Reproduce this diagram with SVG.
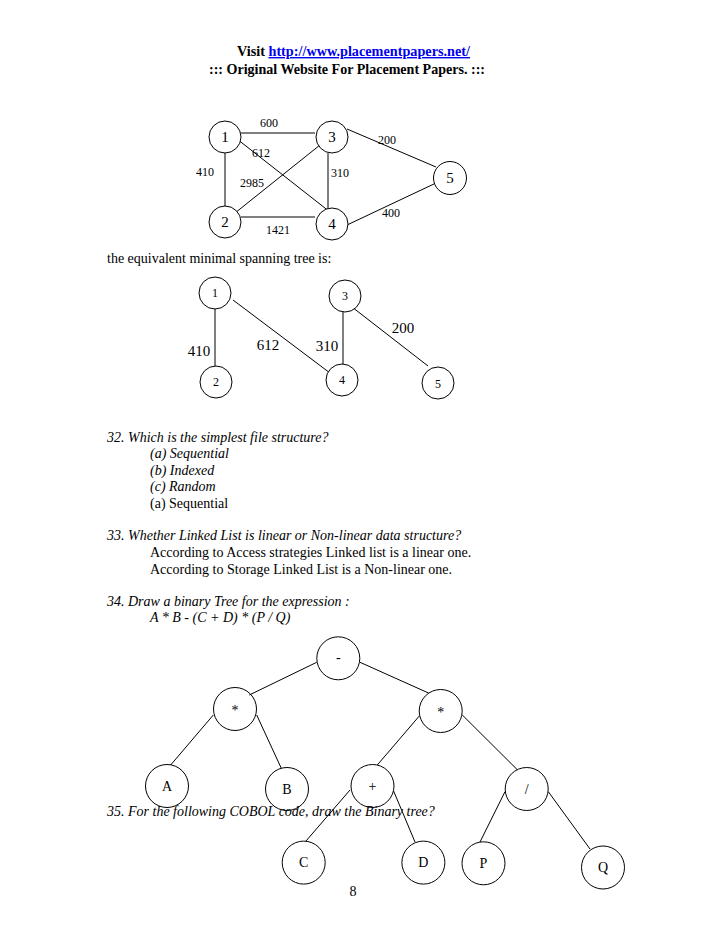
<svg xmlns="http://www.w3.org/2000/svg" width="728" height="942" viewBox="0 0 728 942">
<style>
text{font-family:"Liberation Serif","Times New Roman",serif;fill:#000}
.hd{font-size:14px;font-weight:bold}
.lnk{fill:#0000ee;text-decoration:underline}
.t{font-size:14px}
.i{font-size:14px;font-style:italic}
.w{font-size:12px;text-anchor:middle}
.w2{font-size:15px;text-anchor:middle}
.nl{font-size:15px;text-anchor:middle}
.tl{font-size:12px;text-anchor:middle}
.tn{font-size:14px;text-anchor:middle}
circle{fill:#fff;stroke:#000;stroke-width:1}
#tree circle{fill:none}
line{stroke:#000;stroke-width:1}
</style>
<rect width="728" height="942" fill="#fff"/>
<text class="hd" x="237" y="56" textLength="233" lengthAdjust="spacingAndGlyphs">Visit <tspan class="lnk">http://www.placementpapers.net/</tspan></text>
<text class="hd" x="209" y="74" textLength="276" lengthAdjust="spacingAndGlyphs">::: Original Website For Placement Papers. :::</text>

<!-- Graph 1 -->
<g id="g1-connectors">
<line x1="241" y1="133" x2="315" y2="133"/>
<line x1="225" y1="153" x2="225" y2="206"/>
<line x1="328" y1="153" x2="328" y2="209"/>
<line x1="241" y1="217" x2="315" y2="217"/>
<line x1="237" y1="139" x2="330" y2="212"/>
<line x1="235" y1="213" x2="320" y2="145"/>
<line x1="347" y1="129" x2="436" y2="167"/>
<line x1="347" y1="225" x2="436" y2="183"/>
</g>
<g id="g1-labels">
<text class="w" x="269" y="127">600</text>
<text class="w" x="261" y="157">612</text>
<text class="w" x="205" y="176">410</text>
<text class="w" x="252" y="187">2985</text>
<text class="w" x="340" y="177">310</text>
<text class="w" x="387" y="144">200</text>
<text class="w" x="391" y="217">400</text>
<text class="w" x="278" y="234">1421</text>
</g>
<g id="g1-n1"><circle cx="225" cy="137" r="16"/><text class="nl" x="225" y="142">1</text></g>
<g id="g1-n3"><circle cx="332" cy="137" r="16"/><text class="nl" x="332" y="142">3</text></g>
<g id="g1-n2"><circle cx="225" cy="222" r="16"/><text class="nl" x="225" y="227">2</text></g>
<g id="g1-n4"><circle cx="332" cy="224" r="16"/><text class="nl" x="332" y="229">4</text></g>
<g id="g1-n5"><circle cx="450" cy="178" r="16.5"/><text class="nl" x="450" y="183">5</text></g>

<text class="t" x="107" y="263">the equivalent minimal spanning tree is:</text>

<!-- Graph 2 -->
<g id="g2-connectors">
<line x1="215" y1="308" x2="215" y2="366"/>
<line x1="233" y1="300" x2="330" y2="373"/>
<line x1="343" y1="307" x2="343" y2="364"/>
<line x1="352" y1="307" x2="428" y2="366"/>
</g>
<g id="g2-labels">
<text class="w2" x="403" y="333">200</text>
<text class="w2" x="199" y="356">410</text>
<text class="w2" x="268" y="350">612</text>
<text class="w2" x="327" y="351">310</text>
</g>
<g id="g2-n1"><circle cx="215" cy="293" r="16"/><text class="tl" x="215" y="297">1</text></g>
<g id="g2-n3"><circle cx="345" cy="296" r="16"/><text class="tl" x="345" y="300">3</text></g>
<g id="g2-n2"><circle cx="216" cy="382" r="16"/><text class="tl" x="216" y="386">2</text></g>
<g id="g2-n4"><circle cx="342" cy="380" r="16"/><text class="tl" x="342" y="384">4</text></g>
<g id="g2-n5"><circle cx="438" cy="383" r="16"/><text class="tl" x="438" y="388">5</text></g>

<!-- Text block -->
<text class="i" x="107" y="442">32. Which is the simplest file structure?</text>
<text class="i" x="150" y="458">(a) Sequential</text>
<text class="i" x="150" y="475">(b) Indexed</text>
<text class="i" x="150" y="491">(c) Random</text>
<text class="t" x="150" y="508">(a) Sequential</text>
<text class="i" x="107" y="540">33. Whether Linked List is linear or Non-linear data structure?</text>
<text class="t" x="150" y="557">According to Access strategies Linked list is a linear one.</text>
<text class="t" x="150" y="574">According to Storage Linked List is a Non-linear one.</text>
<text class="i" x="107" y="606">34. Draw a binary Tree for the expression :</text>
<text class="i" x="150" y="622">A * B - (C + D) * (P / Q)</text>
<text class="i" x="107" y="816">35. For the following COBOL code, draw the Binary tree?</text>
<text class="t" x="353" y="896" text-anchor="middle">8</text>

<!-- Tree -->
<g id="tree">
<g id="tree-connectors">
<line x1="316.7" y1="662.3" x2="249.3" y2="695"/>
<line x1="360" y1="662.3" x2="428.7" y2="693.1"/>
<line x1="213.3" y1="715" x2="170.7" y2="765"/>
<line x1="256.7" y1="715" x2="281.3" y2="768.3"/>
<line x1="419.3" y1="716" x2="377.3" y2="765"/>
<line x1="462.3" y1="715" x2="517.3" y2="769.7"/>
<line x1="350" y1="790" x2="306" y2="841"/>
<line x1="393.5" y1="790.8" x2="415" y2="842"/>
<line x1="505" y1="791.7" x2="480" y2="842"/>
<line x1="548.3" y1="791.7" x2="590" y2="849"/>
</g>
<g id="t-minus"><circle cx="338.3" cy="658.3" r="21.5"/><text class="tn" x="338.3" y="662" fill="#444">-</text></g>
<g id="t-mul1"><circle cx="235" cy="709" r="21.5"/><text class="tn" x="235" y="715" fill="#333">*</text></g>
<g id="t-mul2"><circle cx="440.7" cy="711" r="21.5"/><text class="tn" x="440.7" y="717" fill="#333">*</text></g>
<g id="t-A"><circle cx="167" cy="786" r="21.5"/><text class="tn" x="167" y="791">A</text></g>
<g id="t-B"><circle cx="287" cy="789" r="21.5"/><text class="tn" x="287" y="794">B</text></g>
<g id="t-plus"><circle cx="372.5" cy="786" r="21.5"/><text class="tn" x="372.5" y="791" fill="#333">+</text></g>
<g id="t-div"><circle cx="526.7" cy="789" r="21.5"/><text class="tn" x="526.7" y="794" fill="#444">/</text></g>
<g id="t-C"><circle cx="303.7" cy="862.6" r="21.5"/><text class="tn" x="303.7" y="867">C</text></g>
<g id="t-D"><circle cx="423.4" cy="862.6" r="21.5"/><text class="tn" x="423.4" y="867">D</text></g>
<g id="t-P"><circle cx="483.5" cy="863.3" r="21.5"/><text class="tn" x="483.5" y="868">P</text></g>
<g id="t-Q"><circle cx="603" cy="867.5" r="21.5"/><text class="tn" x="603" y="872">Q</text></g>
</g>
</svg>
